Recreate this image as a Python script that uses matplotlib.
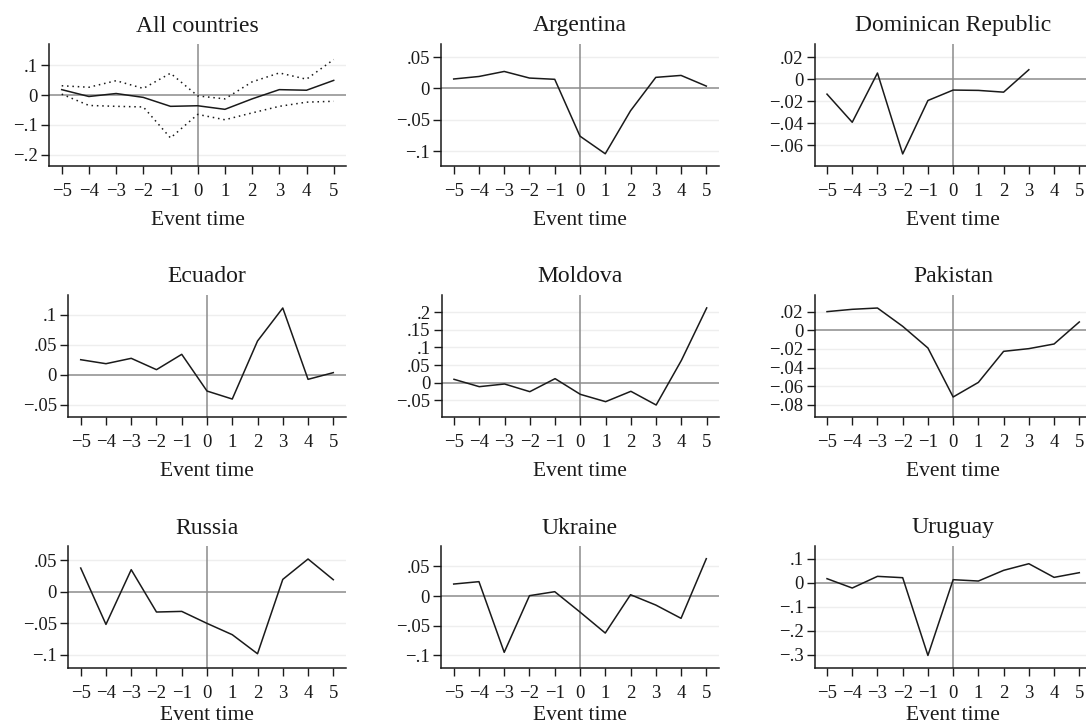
import matplotlib
matplotlib.use("Agg")
import matplotlib.pyplot as plt

plt.rcParams['font.family'] = ['Liberation Serif', 'DejaVu Serif']

event_time = [-5, -4, -3, -2, -1, 0, 1, 2, 3, 4, 5]

all_est = [0.018, -0.005, 0.005, -0.008, -0.038, -0.036, -0.048, -0.013, 0.018, 0.016, 0.049]
all_hi = [0.031, 0.026, 0.048, 0.022, 0.073, -0.003, -0.013, 0.044, 0.074, 0.053, 0.119]
all_lo = [0.003, -0.035, -0.038, -0.040, -0.144, -0.065, -0.083, -0.060, -0.038, -0.024, -0.021]

argentina = [0.015, 0.019, 0.027, 0.0165, 0.0145, -0.076, -0.104, -0.0356, 0.0176, 0.0207, 0.0037]
dominican = [-0.0134, -0.039, 0.0058, -0.0678, -0.0192, -0.0097, -0.010, -0.0116, 0.0088, None, None]
ecuador = [0.0251, 0.0184, 0.0274, 0.0084, 0.0341, -0.0274, -0.0408, 0.0564, 0.1117, -0.0078, 0.0034]
moldova = [0.0095, -0.0114, -0.0038, -0.0256, 0.0114, -0.0332, -0.054, -0.0246, -0.0635, 0.0635, 0.2123]
pakistan = [0.0201, 0.0226, 0.024, 0.0043, -0.019, -0.0717, -0.056, -0.0226, -0.0197, -0.0147, 0.009]
russia = [0.0375, -0.0518, 0.0349, -0.0322, -0.0312, -0.0502, -0.0681, -0.0983, 0.0195, 0.0518, 0.019]
ukraine = [0.0202, 0.0242, -0.0949, 0.0006, 0.0073, -0.027, -0.0624, 0.0022, -0.0152, -0.0376, 0.0629]
uruguay = [0.0167, -0.0222, 0.0264, 0.0208, -0.303, 0.0125, 0.0069, 0.0514, 0.079, 0.0222, 0.0417]

titles = ["All countries", "Argentina", "Dominican Republic", "Ecuador", "Moldova",
          "Pakistan", "Russia", "Ukraine", "Uruguay"]
series = [all_est, argentina, dominican, ecuador, moldova, pakistan, russia, ukraine, uruguay]
yticks = [
    [0.1, 0, -0.1, -0.2],
    [0.05, 0, -0.05, -0.1],
    [0.02, 0, -0.02, -0.04, -0.06],
    [0.1, 0.05, 0, -0.05],
    [0.2, 0.15, 0.1, 0.05, 0, -0.05],
    [0.02, 0, -0.02, -0.04, -0.06, -0.08],
    [0.05, 0, -0.05, -0.1],
    [0.05, 0, -0.05, -0.1],
    [0.1, 0, -0.1, -0.2, -0.3],
]
ylims = [(-0.237, 0.171), (-0.123, 0.0707), (-0.0785, 0.0322), (-0.0704, 0.1335),
         (-0.0967, 0.249), (-0.0929, 0.038), (-0.1204, 0.0724), (-0.1208, 0.0843),
         (-0.354, 0.1528)]

# pixel layout: x of tick -5, x of tick 5, top and bottom of plot area
tick_px = [(61.7, 333.7), (453.7, 706.3), (827, 1079.3),
           (80.7, 333.3), (454, 706.7), (827, 1079.3),
           (80.7, 333.3), (453.7, 706.3), (827, 1079.3)]
rows_px = [(44, 165.7), (295, 416.7), (546, 667.7)]
xlabel_pads = [8, 8, 2.5]

W, H = 1086, 723
fig = plt.figure(figsize=(W / 100, H / 100), dpi=100)


def fmt(v):
    if abs(v) < 1e-12:
        return "0"
    s = ("%g" % abs(v))
    if s.startswith("0"):
        s = s[1:]
    return ("\u2212" + s) if v < 0 else s


def xfmt(v):
    return ("\u2212%d" % -v) if v < 0 else "%d" % v


pad = 12.5
for i in range(9):
    x0, x1 = tick_px[i]
    top, bot = rows_px[i // 3]
    u = (x1 - x0) / 10.0
    left = x0 - pad
    right = x1 + pad
    ax = fig.add_axes([left / W, 1 - bot / H, (right - left) / W, (bot - top) / H])
    ax.set_xlim(-5 - pad / u, 5 + pad / u)
    ax.set_ylim(*ylims[i])

    for t in yticks[i]:
        if t != 0:
            ax.axhline(t, color="#eeeeee", lw=1, zorder=0)
    ax.axhline(0, color="#8c8c8c", lw=1.1, zorder=1)
    ax.axvline(0, color="#8c8c8c", lw=1.1, zorder=1)

    xs = [x for x, y in zip(event_time, series[i]) if y is not None]
    ys = [y for y in series[i] if y is not None]
    ax.plot(xs, ys, color="#1a1a1a", lw=1.1, zorder=3)
    if i == 0:
        ax.plot(event_time, all_hi, color="#1a1a1a", lw=1.1, ls=(0, (1, 2.5)), zorder=3)
        ax.plot(event_time, all_lo, color="#1a1a1a", lw=1.1, ls=(0, (1, 2.5)), zorder=3)

    ax.set_xticks(event_time)
    ax.set_xticklabels([xfmt(v) for v in event_time])
    ax.set_yticks(yticks[i])
    ax.set_yticklabels([fmt(v) for v in yticks[i]])
    ax.tick_params(axis="both", direction="out", length=6, width=1,
                   labelsize=13.5, color="#1a1a1a", labelcolor="#1a1a1a")
    ax.tick_params(axis="x", pad=6.5)
    ax.tick_params(axis="y", pad=2)
    for side in ("top", "right"):
        ax.spines[side].set_visible(False)
    for side in ("left", "bottom"):
        ax.spines[side].set_linewidth(1.1)
        ax.spines[side].set_color("#1a1a1a")
    ax.set_title(titles[i], fontsize=17, color="#1a1a1a", pad=9)
    ax.set_xlabel("Event time", fontsize=15.5, color="#1a1a1a",
                  labelpad=xlabel_pads[i // 3])

fig.savefig("out.png", dpi=100, facecolor="white")
